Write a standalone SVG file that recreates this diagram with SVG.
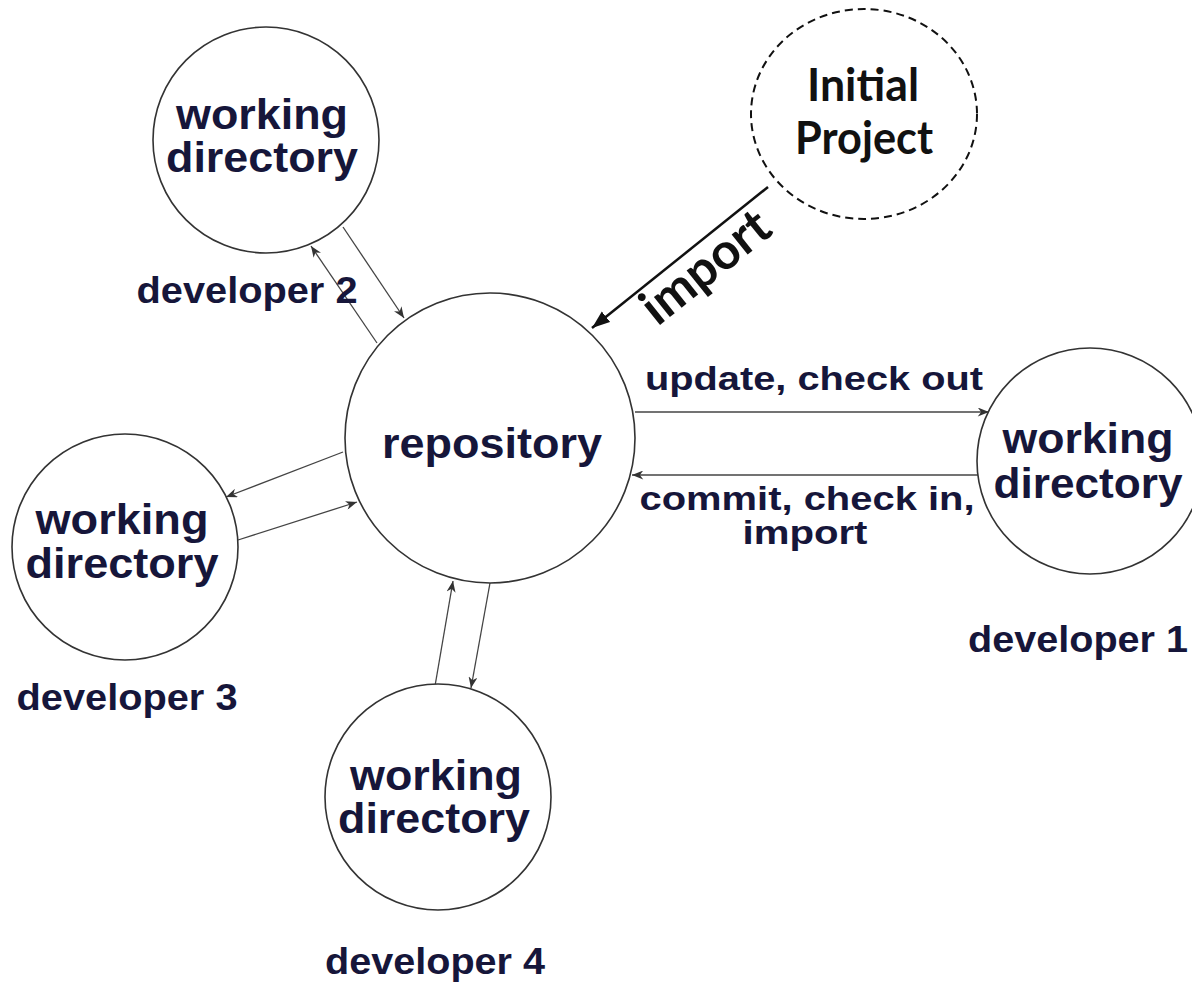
<svg xmlns="http://www.w3.org/2000/svg" width="1192" height="985" viewBox="0 0 1192 985">
<defs>
<style>
.node{fill:#ffffff;stroke:#333333;stroke-width:1.6}
.dash{fill:#ffffff;stroke:#111111;stroke-width:2;stroke-dasharray:8 5}
.t{font-family:"Liberation Sans",Arial,sans-serif;font-weight:bold;fill:#16163a;text-anchor:middle}
.big{font-size:43px}
.lab{font-size:36px}
.edge{font-size:34px}
.cal{font-family:Lato,"Open Sans",sans-serif;font-weight:bold;fill:#111111;text-anchor:middle}
.conn{stroke:#444444;stroke-width:1.3;fill:none}
.imp{stroke:#111111;stroke-width:2.5;fill:none}
</style>
<marker id="ah" viewBox="0 0 10 8" refX="10" refY="4" markerWidth="12" markerHeight="9" markerUnits="userSpaceOnUse" orient="auto">
<path d="M0,0 L10,4 L0,8 L3,4 z" fill="#333333"/>
</marker>
<marker id="ahBig" viewBox="0 0 16 12" refX="16" refY="6" markerWidth="18" markerHeight="14" markerUnits="userSpaceOnUse" orient="auto">
<path d="M0,0 L16,6 L0,12 z" fill="#111111"/>
</marker>
</defs>
<rect width="1192" height="985" fill="#ffffff"/>

<g id="connectors">
<line class="conn" x1="343" y1="227" x2="404" y2="318" marker-end="url(#ah)"/>
<line class="conn" x1="377" y1="343" x2="311" y2="246" marker-end="url(#ah)"/>
<line class="conn" x1="343" y1="452" x2="226" y2="497" marker-end="url(#ah)"/>
<line class="conn" x1="238" y1="540" x2="357" y2="502" marker-end="url(#ah)"/>
<line class="conn" x1="435" y1="686" x2="453" y2="581" marker-end="url(#ah)"/>
<line class="conn" x1="490" y1="583" x2="471" y2="688" marker-end="url(#ah)"/>
<line class="conn" x1="635" y1="412" x2="989" y2="412" marker-end="url(#ah)"/>
<line class="conn" x1="978" y1="475" x2="632" y2="475" marker-end="url(#ah)"/>
<line class="imp" x1="768" y1="187" x2="592" y2="328" marker-end="url(#ahBig)"/>
<text class="t edge" x="814" y="390" textLength="338" lengthAdjust="spacingAndGlyphs">update, check out</text>
<text class="t edge" x="807" y="510" textLength="335" lengthAdjust="spacingAndGlyphs">commit, check in,</text>
<text class="t edge" x="805" y="544" textLength="125" lengthAdjust="spacingAndGlyphs">import</text>
<text class="cal" font-size="50" transform="translate(716,280) rotate(-38.7)" textLength="150" lengthAdjust="spacingAndGlyphs">import</text>
</g>

<g id="repository">
<circle class="node" cx="490" cy="438" r="145"/>
<text class="t big" x="492" y="458" textLength="220" lengthAdjust="spacingAndGlyphs">repository</text>
</g>

<g id="developer2">
<circle class="node" cx="266" cy="140" r="113"/>
<text class="t big" x="262" y="129" textLength="172" lengthAdjust="spacingAndGlyphs">working</text>
<text class="t big" x="262" y="172" textLength="192" lengthAdjust="spacingAndGlyphs">directory</text>
<text class="t lab" x="247" y="303" textLength="221" lengthAdjust="spacingAndGlyphs">developer 2</text>
</g>

<g id="developer1">
<circle class="node" cx="1090" cy="461" r="113"/>
<text class="t big" x="1088" y="453" textLength="171" lengthAdjust="spacingAndGlyphs">working</text>
<text class="t big" x="1088" y="498" textLength="189" lengthAdjust="spacingAndGlyphs">directory</text>
<text class="t lab" x="1078" y="652" textLength="220" lengthAdjust="spacingAndGlyphs">developer 1</text>
</g>

<g id="developer3">
<circle class="node" cx="125" cy="547" r="113"/>
<text class="t big" x="122" y="534" textLength="173" lengthAdjust="spacingAndGlyphs">working</text>
<text class="t big" x="122" y="578" textLength="193" lengthAdjust="spacingAndGlyphs">directory</text>
<text class="t lab" x="127" y="710" textLength="221" lengthAdjust="spacingAndGlyphs">developer 3</text>
</g>

<g id="developer4">
<circle class="node" cx="438" cy="797" r="113"/>
<text class="t big" x="436" y="790" textLength="172" lengthAdjust="spacingAndGlyphs">working</text>
<text class="t big" x="434" y="833" textLength="192" lengthAdjust="spacingAndGlyphs">directory</text>
<text class="t lab" x="435" y="974" textLength="220" lengthAdjust="spacingAndGlyphs">developer 4</text>
</g>

<g id="initial-project">
<ellipse class="dash" cx="864" cy="114" rx="113" ry="105"/>
<text class="cal" font-size="45" x="863" y="101" textLength="112" lengthAdjust="spacingAndGlyphs">Initial</text>
<text class="cal" font-size="45" x="864" y="154" textLength="138" lengthAdjust="spacingAndGlyphs">Project</text>
</g>
</svg>
